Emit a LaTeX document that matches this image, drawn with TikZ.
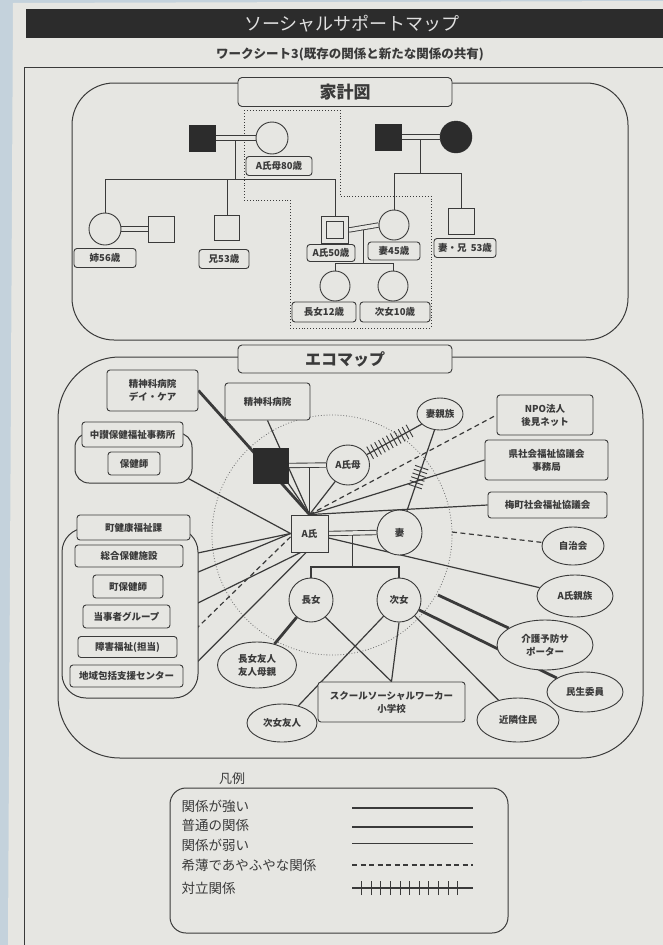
\documentclass[tikz,border=0pt]{standalone}
\usepackage{fontspec}
\setmainfont{Noto Sans CJK JP}
\usetikzlibrary{shapes.geometric,decorations.markings,calc}
\definecolor{paper}{HTML}{E6E6E2}
\definecolor{bgblue}{HTML}{C4D2DC}
\definecolor{ink}{HTML}{3A3A3A}
\definecolor{bar}{HTML}{2C2C2C}
\pgfdeclarelayer{back}
\pgfdeclarelayer{bg}
\pgfsetlayers{back,bg,main}
\newcommand\bxf{\fontsize{9.5}{13}\selectfont\bfseries}
\newcommand\lgf{\fontsize{13.5}{16}\selectfont}
\tikzset{
 box/.style={draw=ink, line width=0.9pt, rounded corners=3pt, fill=paper, font=\bxf, text=ink, align=center, inner sep=1pt},
 ell/.style={ellipse, draw=ink, line width=0.9pt, fill=paper, font=\bxf, text=ink, align=center, inner sep=0pt},
 circ/.style={circle, draw=ink, line width=0.9pt, fill=paper, font=\bxf, text=ink, inner sep=0pt},
 sq/.style={rectangle, draw=ink, line width=0.9pt, fill=paper, font=\bxf, text=ink, inner sep=0pt},
 blk/.style={draw=bar, fill=bar, inner sep=0pt},
 frameline/.style={draw=ink, line width=1pt},
 rel/.style={draw=ink, line width=1.2pt},
 strong/.style={draw=ink, line width=2.8pt},
 weak/.style={draw=ink, line width=0.6pt},
 vague/.style={draw=ink, line width=1.2pt, dash pattern=on 5pt off 3.5pt},
 marr/.style={draw=ink, line width=0.9pt, double=paper, double distance=3.5pt},
 conflict/.style args={#1:#2:#3}{rel, postaction={decorate}, decoration={markings, mark=between positions #1 and #2 step #3 with {\draw[ink, line width=0.9pt] (0,-7pt) -- (0,7pt);}}},
}
\begin{document}
\begin{tikzpicture}[x=1pt,y=-1pt]
\useasboundingbox (0,0) rectangle (663,945);
\begin{pgfonlayer}{back}
\fill[bgblue] (0,0) rectangle (663,945);
\fill[paper] (13,3) -- (663,1) -- (663,945) -- (8,945) -- cycle;
\end{pgfonlayer}
% header
\fill[bar] (26,9) rectangle (663,38);
\node[text=white!88!black, font=\fontsize{18}{20}\selectfont] (title) at (352,24) {ソーシャルサポートマップ};
\node[text=ink, font=\fontsize{12.5}{14}\selectfont\bfseries] (sub) at (350,54) {ワークシート3(既存の関係と新たな関係の共有)};
\draw[frameline] (24,945) -- (24,67) -- (663,67);

% ===== genogram =====
\draw[frameline, rounded corners=42pt] (72,83) rectangle (628,340);
\node[box, rounded corners=4pt, minimum width=214pt, minimum height=29pt, font=\fontsize{17}{19}\selectfont\bfseries] (kkz) at (345,92) {家計図};
\begin{pgfonlayer}{bg}
\draw[ink, line width=0.9pt, dotted] (244,110) -- (340,110) -- (340,196) -- (431,196) -- (431,328) -- (290,328) -- (290,200) -- (244,200) -- cycle;
\end{pgfonlayer}
\node[blk, minimum size=26pt] (gfa) at (202,138) {};
\node[circ, minimum size=32pt] (gmo) at (272,138) {};
\node[box, minimum width=66pt, minimum height=19pt] (gmol) at (279,166) {A氏母80歳};
\node[circ, minimum size=32pt] (gsis) at (105,229) {};
\node[sq, minimum size=26pt] (gsih) at (161,229) {};
\node[box, minimum width=62pt, minimum height=19pt] (gsisl) at (105,258) {姉56歳};
\node[sq, minimum size=25pt] (gbro) at (227,228) {};
\node[box, minimum width=50pt, minimum height=19pt] (gbrol) at (224,259) {兄53歳};
\node[sq, minimum size=27pt] (ga) at (335,230) {};
\node[sq, minimum size=17pt] (gai) at (335,230) {};
\node[box, minimum width=48pt, minimum height=17pt] (gal) at (331,253) {A氏50歳};
\node[circ, minimum size=30pt] (gw) at (394,225) {};
\node[box, minimum width=52pt, minimum height=18pt] (gwl) at (394,251) {妻45歳};
\node[circ, minimum size=30pt] (gd1) at (335,286) {};
\node[box, minimum width=64pt, minimum height=20pt] (gd1l) at (324,312) {長女12歳};
\node[circ, minimum size=30pt] (gd2) at (393,286) {};
\node[box, minimum width=70pt, minimum height=20pt] (gd2l) at (395,312) {次女10歳};
\node[blk, minimum size=26pt] (gwf) at (388,137) {};
\node[circle, blk, minimum size=32pt] (gwm) at (456,137) {};
\node[sq, minimum size=26pt] (gwb) at (461,221) {};
\node[box, minimum width=62pt, minimum height=19pt] (gwbl) at (465,248) {妻・兄\ \ 53歳};
\coordinate (gm) at ($(gfa.east)!0.5!(gmo.west)$);
\coordinate (gsib) at (235,179);
\coordinate (gc) at ($(ga.east)!0.5!(gw.west)$);
\coordinate (gkid) at (363,263);
\coordinate (gwc) at ($(gwf.east)!0.5!(gwm.west)$);
\coordinate (gwsib) at (422,173);
\begin{pgfonlayer}{bg}
\draw[rel, line width=1pt] (gm) -- (gm |- gsib);
\draw[rel, line width=1pt] (gsis.north) -- (gsis.north |- gsib) -- (ga.north |- gsib) -- (ga.north);
\draw[rel, line width=1pt] (gbro.north) -- (gbro.north |- gsib);
\draw[rel, line width=1pt] (gc) -- (gc |- gkid);
\draw[rel, line width=1pt] (gd1.north) -- (gd1.north |- gkid) -- (gd2.north |- gkid) -- (gd2.north);
\draw[rel, line width=1pt] (gwc) -- (gwc |- gwsib);
\draw[rel, line width=1pt] (gw.north) -- (gw.north |- gwsib) -- (gwb.north |- gwsib) -- (gwb.north);
\draw[marr] (gfa.east) -- (gmo.west);
\draw[marr] (gsis.east) -- (gsih.west);
\draw[marr] (ga.east) -- (gw.west);
\draw[marr] (gwf.east) -- (gwm.west);
\end{pgfonlayer}

% ===== ecomap =====
\draw[frameline, rounded corners=62pt] (58,357) rectangle (643,758);
\node[box, rounded corners=4pt, minimum width=214pt, minimum height=28pt, font=\fontsize{16}{18}\selectfont\bfseries] (ecm) at (345,359) {エコマップ};
\begin{pgfonlayer}{bg}
\draw[ink!75, line width=0.8pt, dotted] (332,535) circle[radius=120pt];
\end{pgfonlayer}
\draw[frameline, fill=paper, rounded corners=14pt] (75,433) rectangle (192,483);
\draw[frameline, fill=paper, rounded corners=24pt] (62,528) rectangle (198,698);
\node[box, minimum width=91pt, minimum height=41pt] (dc) at (152.5,390.5) {精神科病院\\デイ・ケア};
\node[box, minimum width=85pt, minimum height=37pt] (ph) at (267.5,401.5) {精神科病院};
\node[box, minimum width=101pt, minimum height=25pt] (chu) at (132.5,434.5) {中讃保健福祉事務所};
\node[box, minimum width=52pt, minimum height=23pt] (hok) at (134,463.5) {保健師};
\node[blk, minimum size=35pt] (efa) at (270.5,465.5) {};
\node[ell, minimum width=43pt, minimum height=40pt] (emo) at (348,465) {A氏母};
\node[sq, minimum size=37pt] (ea) at (309.5,533.5) {A氏};
\node[circ, minimum size=45pt] (ew) at (399.5,532.5) {妻};
\node[ell, minimum width=46pt, minimum height=32pt] (ewr) at (440,414) {妻親族};
\node[box, minimum width=96pt, minimum height=40pt] (npo) at (545,415) {NPO法人\\後見ネット};
\node[box, minimum width=123pt, minimum height=40pt] (ken) at (546.5,460) {県社会福祉協議会\\事務局};
\node[box, minimum width=119pt, minimum height=26pt] (ume) at (547.5,505) {梅町社会福祉協議会};
\node[ell, minimum width=62pt, minimum height=38pt] (jichi) at (573,546) {自治会};
\node[ell, minimum width=76pt, minimum height=42pt] (ashin) at (575,596) {A氏親族};
\node[ell, minimum width=96pt, minimum height=50pt] (kaigo) at (545,645) {介護予防サ\\ポーター};
\node[ell, minimum width=76pt, minimum height=40pt] (minsei) at (585,692) {民生委員};
\node[ell, minimum width=82pt, minimum height=44pt] (kinrin) at (518,720) {近隣住民};
\node[box, minimum width=147pt, minimum height=40pt] (ssw) at (391.5,702) {スクールソーシャルワーカー\\小学校};
\node[ell, minimum width=70pt, minimum height=38pt] (jfr) at (282,723) {次女友人};
\node[ell, minimum width=79pt, minimum height=46pt] (cfr) at (257,665) {長女友人\\友人母親};
\node[circ, minimum size=44pt] (d1) at (311,600) {長女};
\node[circ, minimum size=44pt] (d2) at (399,600) {次女};
\node[box, minimum width=113pt, minimum height=25pt] (machi) at (133.5,527.5) {町健康福祉課};
\node[box, minimum width=108pt, minimum height=22pt] (sogo) at (129,556) {総合保健施設};
\node[box, minimum width=70pt, minimum height=23pt] (mhok) at (128,586.5) {町保健師};
\node[box, minimum width=87pt, minimum height=23pt] (toji) at (126.5,616.5) {当事者グループ};
\node[box, minimum width=99pt, minimum height=21pt] (shogai) at (127.5,647) {障害福祉(担当)};
\node[box, minimum width=113pt, minimum height=22pt] (chiiki) at (126.5,676) {地域包括支援センター};
\coordinate (ck) at (438,595);
\coordinate (cj) at (452,532);
\coordinate (ekid) at (355,567);
\coordinate (ec) at ($(ea.east)!0.5!(ew.west)$);
\begin{pgfonlayer}{bg}
\draw[strong] (dc.east) -- (ea.north);
\draw[rel] (ph.south) -- (ea.north);
\draw[rel] (efa.south east) -- (ea.north);
\draw[rel] (ea.north |- efa.east) -- (ea.north);
\draw[marr] (efa.east) -- (emo.west);
\draw[rel] (ea.north) -- (emo);
\draw[vague] (ea.north) -- (npo.west);
\draw[rel] (ea.north) -- (ken.west);
\draw[rel] (ea.north) -- (ume.west);
\draw[conflict={0.06:0.8:4.5pt}] (emo) -- (ewr);
\draw[conflict={0.3:0.55:4pt}] (ew) -- (ewr);
\draw[rel] (hok.east) -- (ea.west);
\draw[rel] (sogo.east) -- (ea.west);
\draw[rel] (mhok.east) -- (ea.west);
\draw[rel] (toji.east) -- (ea.-115);
\draw[vague] (shogai.east) -- (ea.190);
\draw[rel] (chiiki.east) -- (ea.-100);
\draw[rel] (ea) -- (ashin);
\draw[rel] (ec) -- (ec |- ekid);
\draw[rel] (d1.north) -- (d1.north |- ekid) -- (d2.north |- ekid) -- (d2.north);
\draw[marr] (ea.east) -- (ew.west);
\draw[strong] (d1) -- (cfr);
\draw[rel] (d1.-50) -- (ssw.north);
\draw[rel] (d2.south) -- (ssw.north);
\draw[rel] (d2) -- (jfr);
\draw[rel] (d2) -- (kinrin);
\draw[strong] (d2) -- (minsei);
\draw[strong] (ck) -- (kaigo);
\draw[vague] (cj) -- (jichi);
\end{pgfonlayer}

% ===== legend =====
\node[text=ink, font=\fontsize{13}{15}\selectfont] (hanrei) at (232,779) {凡例};
\draw[frameline, rounded corners=16pt] (170,788) rectangle (508,933);
\node[anchor=west, text=ink, font=\lgf] (t1) at (178,806) {関係が強い};
\node[anchor=west, text=ink, font=\lgf] (t2) at (178,825) {普通の関係};
\node[anchor=west, text=ink, font=\lgf] (t3) at (178,845) {関係が弱い};
\node[anchor=west, text=ink, font=\lgf] (t4) at (178,865) {希薄であやふやな関係};
\node[anchor=west, text=ink, font=\lgf] (t5) at (178,888) {対立関係};
\coordinate (a1) at (352,808); \coordinate (b1) at (473,808);
\coordinate (a2) at (352,827); \coordinate (b2) at (473,827);
\coordinate (a3) at (352,843); \coordinate (b3) at (473,843);
\coordinate (a4) at (352,865); \coordinate (b4) at (473,865);
\coordinate (a5) at (352,888); \coordinate (b5) at (473,888);
\draw[strong] (a1) -- (b1);
\draw[rel] (a2) -- (b2);
\draw[weak] (a3) -- (b3);
\draw[vague] (a4) -- (b4);
\draw[conflict={0.08:0.92:9.6pt}] (a5) -- (b5);
\end{tikzpicture}
\end{document}
